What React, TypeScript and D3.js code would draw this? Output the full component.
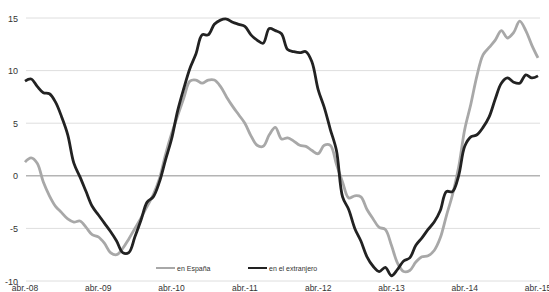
import React from "react";
import * as d3 from "d3";

const xLabels = ["abr.-08", "abr.-09", "abr.-10", "abr.-11", "abr.-12", "abr.-13", "abr.-14", "abr.-15"];
const yTicks = [-10, -5, 0, 5, 10, 15];

// monthly values, Apr 2008 .. Apr 2015
const espana = [
  1.3, 1.7, 1.2, -0.6, -1.9, -2.9, -3.5, -4.1, -4.4, -4.3, -4.9, -5.6,
  -5.8, -6.4, -7.3, -7.5, -6.9, -6.0, -5.0, -4.0, -2.9, -1.8, -0.3, 2.0,
  4.0, 5.7, 7.4, 9.0, 9.1, 8.8, 9.1, 9.1, 8.5, 7.5, 6.6, 5.8,
  5.0, 3.8, 2.9, 2.8, 3.9, 4.6, 3.5, 3.6, 3.3, 2.9, 2.8, 2.4,
  2.1, 2.9, 2.9, 1.1, -0.6, -2.1, -1.9, -2.0, -3.2, -4.1, -4.9, -5.1,
  -6.6, -8.3, -9.1, -9.0, -8.2, -7.7, -7.6, -7.1, -5.9, -3.8, -1.8, 0.8,
  4.4, 6.8, 9.5, 11.5, 12.2, 12.9, 13.8, 13.1, 13.6, 14.7, 13.8, 12.4,
  11.2,
];
const extranjero = [
  9.0, 9.2, 8.5, 7.9, 7.8, 7.0, 5.6, 3.9, 1.2, -0.1, -1.5, -2.9,
  -3.7, -4.5, -5.3, -6.2, -7.3, -7.3, -5.8, -4.2, -2.5, -2.0, -0.6, 1.5,
  3.5, 6.2, 8.3, 10.2, 11.6, 13.4, 13.4, 14.4, 14.8, 14.9, 14.6, 14.4,
  14.2, 13.4, 12.9, 12.6, 14.0, 13.8, 13.5, 12.0, 11.8, 11.7, 11.8, 10.8,
  8.2, 6.5, 4.4, 2.4, -2.0, -3.2, -5.0, -6.2, -7.7, -8.6, -9.1, -8.7,
  -9.5, -8.9, -8.1, -7.8, -6.6, -5.9, -5.1, -4.4, -3.3, -1.5, -1.5, 0.0,
  2.8, 3.7, 3.9, 4.6, 5.6, 7.3, 8.8, 9.3, 8.9, 8.8, 9.6, 9.3,
  9.5,
];

const W = 549;
const H = 292;

export default function App() {
  const x = d3.scaleLinear().domain([0, 84]).range([25, 538]);
  const y = d3.scaleLinear().domain([-10, 15]).range([281, 18]);
  const line = d3
    .line<number>()
    .x((_, i) => x(i))
    .y((d) => y(d))
    .curve(d3.curveCatmullRom.alpha(0.5));
  const font = "'Liberation Sans', Arial, sans-serif";
  return (
    <svg
      width={W}
      height={H}
      style={{ position: "absolute", left: 0, top: 0, background: "#fff" }}
      fontFamily={font}
    >
      {yTicks.map((t) => (
        <g key={t}>
          <line
            x1={26}
            x2={540}
            y1={y(t)}
            y2={y(t)}
            stroke={t === 0 ? "#b4b4b4" : "#dedede"}
            strokeWidth={t === 0 ? 1.5 : 1}
          />
          <text x={18} y={y(t) + 3.5} textAnchor="end" fontSize={9} fill="#333">
            {t}
          </text>
        </g>
      ))}
      {xLabels.map((l, i) => (
        <text key={l} x={x(i * 12)} y={291} textAnchor="middle" fontSize={8.5} fill="#333">
          {l}
        </text>
      ))}
      <path d={line(espana) || ""} fill="none" stroke="#a8a8a8" strokeWidth={2.8} strokeLinejoin="round" />
      <path d={line(extranjero) || ""} fill="none" stroke="#222" strokeWidth={2.8} strokeLinejoin="round" />
      <line x1={156} x2={175} y1={268} y2={268} stroke="#a8a8a8" strokeWidth={2} />
      <text x={177} y={270.5} fontSize={7} fill="#333">en España</text>
      <line x1={248} x2={267} y1={268} y2={268} stroke="#222" strokeWidth={2} />
      <text x={269} y={270.5} fontSize={7} fill="#333">en el extranjero</text>
    </svg>
  );
}
